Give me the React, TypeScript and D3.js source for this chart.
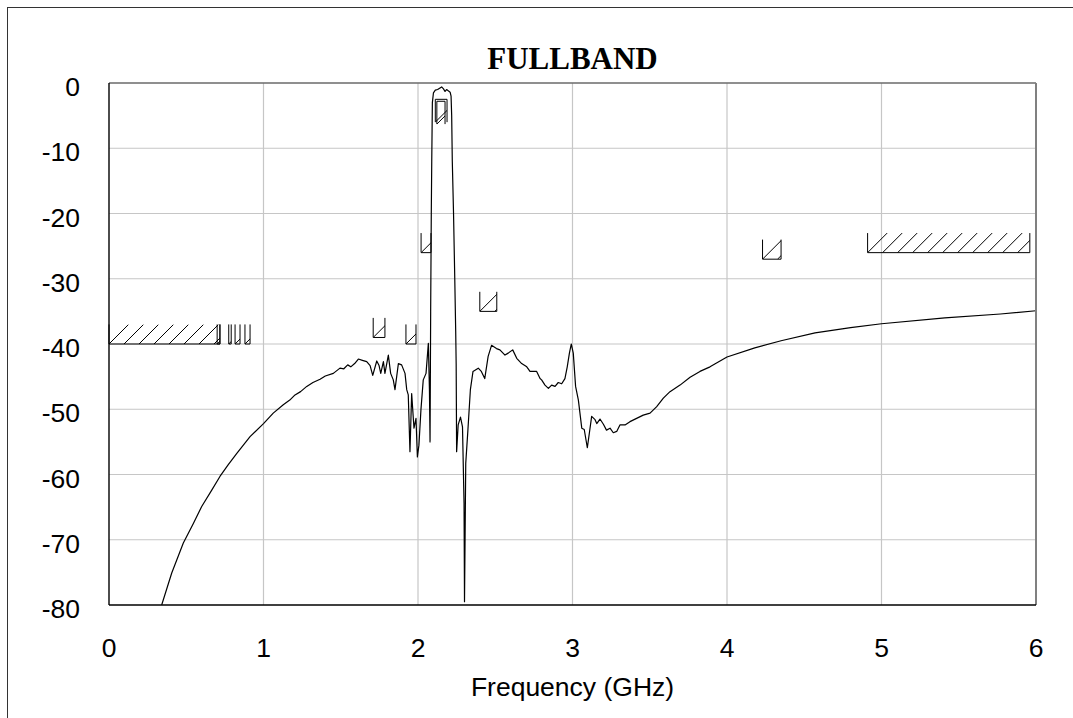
import React from "react";
import * as d3 from "d3";

// ---- data ----
const freqGHz: number[] = [
  0.341, 0.406, 0.481, 0.546, 0.6, 0.665, 0.718, 0.772, 0.826, 0.913,
  1.0, 1.063, 1.128, 1.17, 1.204, 1.24, 1.28, 1.32, 1.366, 1.4, 1.452,
  1.495, 1.52, 1.545, 1.565, 1.59, 1.614, 1.64, 1.668, 1.69, 1.707, 1.733,
  1.748, 1.759, 1.776, 1.786, 1.808, 1.823, 1.84, 1.851, 1.873, 1.894,
  1.916, 1.927, 1.937, 1.948, 1.959, 1.974, 1.987, 1.996, 2.006, 2.019,
  2.034, 2.052, 2.067, 2.074, 2.078, 2.082, 2.086, 2.089, 2.093, 2.1,
  2.112, 2.127, 2.14, 2.153, 2.165, 2.175, 2.185, 2.196, 2.208, 2.214,
  2.218, 2.222, 2.23, 2.238, 2.244, 2.247, 2.25, 2.26, 2.275, 2.288,
  2.298, 2.301, 2.309, 2.323, 2.339, 2.356, 2.39, 2.41, 2.432, 2.454,
  2.476, 2.508, 2.53, 2.563, 2.584, 2.613, 2.639, 2.671, 2.704, 2.725,
  2.768, 2.79, 2.8, 2.822, 2.844, 2.865, 2.887, 2.908, 2.93, 2.951, 2.966,
  2.98, 2.992, 3.005, 3.02, 3.038, 3.06, 3.076, 3.096, 3.124, 3.146,
  3.157, 3.178, 3.2, 3.22, 3.243, 3.264, 3.286, 3.307, 3.34, 3.372, 3.415,
  3.458, 3.502, 3.545, 3.588, 3.631, 3.696, 3.761, 3.825, 3.89, 4.0, 4.18,
  4.35, 4.57, 4.8, 5.0, 5.41, 5.77, 6.0,
];
const s21dB: number[] = [
  -80, -75.1, -70.5, -67.5, -64.9, -62.4, -60.3, -58.5, -56.8, -54.2,
  -52.2, -50.6, -49.3, -48.6, -47.8, -47.3, -46.5, -45.9, -45.4, -44.9, -44.5,
  -43.7, -43.8, -43.2, -43.5, -43.0, -42.3, -42.5, -42.7, -43.3, -44.8, -42.6,
  -43.3, -44.5, -42.7, -44.5, -41.7, -44.5, -45.5, -47.0, -43.0, -43.2,
  -44.5, -47.0, -47.8, -56.5, -47.6, -52.9, -51.4, -57.3, -55.5, -50.1,
  -45.5, -44.5, -39.9, -47, -55.0, -35, -20, -12, -3, -1.5,
  -1.1, -1.0, -0.8, -0.6, -0.9, -1.3, -1.0, -1.2, -1.4, -2,
  -5, -12, -20, -30, -38, -43, -56.5, -52.4, -51.2, -52.7,
  -64.4, -79.5, -58.3, -53.2, -47.0, -44.2, -43.7, -44.2, -45.3, -41.9,
  -40.2, -40.7, -40.9, -41.7, -41.4, -40.9, -42.2, -43.0, -43.5, -44.2,
  -44.2, -45.3, -45.5, -46.3, -46.8, -46.3, -46.5, -45.9, -46.1, -45.3, -43.5,
  -41.4, -40.0, -41.4, -46.5, -48.6, -52.9, -53.1, -55.9, -51.1, -51.6,
  -52.2, -51.5, -52.3, -53.2, -52.9, -53.6, -53.4, -52.4, -52.4, -51.9, -51.4,
  -50.9, -50.6, -49.6, -48.3, -47.3, -46.3, -45.1, -44.2, -43.5, -42.0, -40.6,
  -39.5, -38.3, -37.5, -36.9, -36.0, -35.4, -34.9,
];

// spec masks: upper limits (hatched above the level) and passband lower limits
const maskStart: number[] = [0, 0.7, 0.775, 0.816, 0.88, 1.71, 1.922, 2.02, 2.4, 4.23, 4.91, 2.112, 2.122];
const maskStop: number[] = [0.718, 0.718, 0.791, 0.848, 0.913, 1.786, 1.987, 2.084, 2.51, 4.35, 5.96, 2.188, 2.175];
const maskLevel: number[] = [-40, -40, -40, -40, -40, -39, -40, -26, -35, -27, -26, -2.5, -2.8];
const maskKind: string[] = ["upper", "upper", "upper", "upper", "upper", "upper", "upper", "upper", "upper", "upper", "upper", "lower", "lower"];

const xTicks: number[] = [0, 1, 2, 3, 4, 5, 6];
const yTicks: number[] = [0, -10, -20, -30, -40, -50, -60, -70, -80];

const titleText = "FULLBAND";
const xLabel = "Frequency (GHz)";

export default function App() {
  const W = 1073, H = 718;
  const L = 109, R = 1036, T = 83, B = 605;
  const x = d3.scaleLinear().domain([0, 6]).range([L, R]);
  const y = d3.scaleLinear().domain([-80, 0]).range([B, T]);
  const pts = freqGHz.map((f, i) => [f, s21dB[i]] as [number, number]);
  const line = d3.line<[number, number]>().x((d) => x(d[0])).y((d) => y(d[1]));

  const masks = maskStart.map((s, i) => {
    const x0 = x(s), x1 = x(maskStop[i]);
    const lvl = maskLevel[i];
    const upper = maskKind[i] === "upper";
    const depth = upper ? 3 : 3.5;
    const yLvl = y(lvl);
    const yOther = upper ? y(lvl + depth) : y(lvl - depth);
    const yBot = Math.max(yLvl, yOther), yTop = Math.min(yLvl, yOther);
    const h = yBot - yTop;
    const hatch: [number, number, number, number][] = [];
    for (let k = 0; x0 + k * 15 < x1; k++) {
      const sx = x0 + k * 15;
      hatch.push([sx, yBot, sx + h, yTop]);
    }
    const outline = upper
      ? `M${x0},${yTop}L${x0},${yBot}L${x1},${yBot}L${x1},${yTop}`
      : `M${x0},${yBot}L${x0},${yTop}L${x1},${yTop}L${x1},${yBot}`;
    return { i, x0, x1, yTop, yBot, hatch, outline };
  });

  const sans = "'Liberation Sans', Arial, sans-serif";
  return (
    <svg width={W} height={H} style={{ position: "absolute", left: 0, top: 0, background: "#fff" }}>
      <defs>
        <clipPath id="plotClip">
          <rect x={L} y={T} width={R - L} height={B - T} />
        </clipPath>
        {masks.map((m) => (
          <clipPath id={`mclip${m.i}`} key={m.i}>
            <rect x={m.x0} y={m.yTop} width={m.x1 - m.x0} height={m.yBot - m.yTop} />
          </clipPath>
        ))}
      </defs>
      <rect x={7.5} y={7.5} width={1200} height={900} fill="none" stroke="#333" strokeWidth={1} />
      {/* grid */}
      {xTicks.slice(1, -1).map((t) => (
        <line key={`gx${t}`} x1={x(t)} x2={x(t)} y1={T} y2={B} stroke="#c6c6c6" strokeWidth={1.2} />
      ))}
      {yTicks.slice(1, -1).map((t) => (
        <line key={`gy${t}`} x1={L} x2={R} y1={y(t)} y2={y(t)} stroke="#c6c6c6" strokeWidth={1.2} />
      ))}
      {/* masks */}
      {masks.map((m) => (
        <g key={`m${m.i}`} stroke="#000" strokeWidth={1} fill="none">
          <g clipPath={`url(#mclip${m.i})`}>
            {m.hatch.map((h, j) => (
              <line key={j} x1={h[0]} y1={h[1]} x2={h[2]} y2={h[3]} />
            ))}
          </g>
          <path d={m.outline} />
        </g>
      ))}
      {/* curve */}
      <g clipPath="url(#plotClip)">
        <path d={line(pts) || ""} fill="none" stroke="#000" strokeWidth={1.2} strokeLinejoin="round" />
      </g>
      {/* frame */}
      <line x1={L} x2={R} y1={T} y2={T} stroke="#6a6a6a" strokeWidth={1.6} />
      <line x1={R} x2={R} y1={T} y2={B} stroke="#808080" strokeWidth={2} />
      <line x1={L} x2={R} y1={B} y2={B} stroke="#000" strokeWidth={1.4} />
      <line x1={L} x2={L} y1={T} y2={B} stroke="#000" strokeWidth={1.4} />
      {/* ticks */}
      {yTicks.map((t) => (
        <text key={`yt${t}`} x={80} y={y(t) + 13} textAnchor="end" fontFamily={sans} fontSize={26.5} fill="#000">
          {t}
        </text>
      ))}
      {xTicks.map((t) => (
        <text key={`xt${t}`} x={x(t)} y={657} textAnchor="middle" fontFamily={sans} fontSize={26.5} fill="#000">
          {t}
        </text>
      ))}
      <text x={(L + R) / 2} y={696} textAnchor="middle" fontFamily={sans} fontSize={26.5} fill="#000">
        {xLabel}
      </text>
      <text x={(L + R) / 2} y={69} textAnchor="middle" fontFamily="'Liberation Serif', 'Times New Roman', serif" fontWeight="bold" fontSize={31} fill="#000">
        {titleText}
      </text>
    </svg>
  );
}
